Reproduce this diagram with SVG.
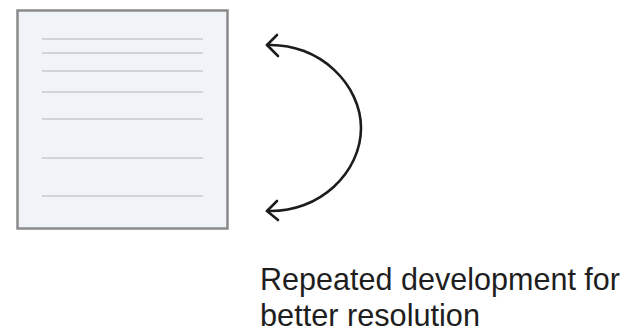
<svg xmlns="http://www.w3.org/2000/svg" width="631" height="330" viewBox="0 0 631 330">
  <style>
    .page { fill: #f0f4f8; stroke: #8a8a8a; stroke-width: 2.5; }
    .rule { stroke: #c9cbcd; stroke-width: 1.6; }
    .loop { fill: none; stroke: #1c1c1c; stroke-width: 2.6; stroke-linecap: round; stroke-linejoin: round; }
    .label { font-family: "Liberation Sans", Arial, sans-serif; font-size: 32px; fill: #1e1e1e; }
  </style>
  <rect width="631" height="330" fill="#ffffff"/>

  <!-- document sheet with ruled lines -->
  <g id="document">
    <rect class="page" x="17.5" y="10.5" width="210" height="218"/>
    <g class="rule">
      <line x1="42" y1="39" x2="203" y2="39"/>
      <line x1="42" y1="53" x2="203" y2="53"/>
      <line x1="42" y1="71" x2="203" y2="71"/>
      <line x1="42" y1="92" x2="203" y2="92"/>
      <line x1="42" y1="119" x2="203" y2="119"/>
      <line x1="42" y1="158" x2="203" y2="158"/>
      <line x1="42" y1="196" x2="203" y2="196"/>
    </g>
  </g>

  <!-- double-headed loop arrow -->
  <g id="connectors">
    <path class="loop" d="M267,45 C320,43 361,85 361,128 C361,172 320,213 267,211"/>
    <path class="loop" d="M277,35 L267,45 L278,56"/>
    <path class="loop" d="M277,201 L267,211 L278,220"/>
  </g>

  <g id="caption">
    <text class="label" x="260" y="290" textLength="360" lengthAdjust="spacingAndGlyphs">Repeated development for</text>
    <text class="label" x="260" y="326" textLength="220" lengthAdjust="spacingAndGlyphs">better resolution</text>
  </g>
</svg>
